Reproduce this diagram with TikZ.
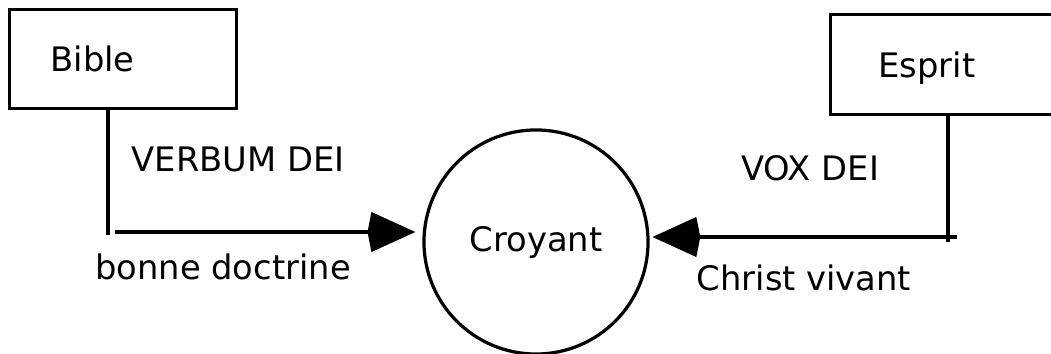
\documentclass[tikz,border=0pt]{standalone}
\usepackage{fontspec}
\setmainfont{DejaVu Sans}
\usetikzlibrary{arrows.meta,positioning}

\begin{document}
\begin{tikzpicture}[
  x=0.025cm, y=-0.025cm,
  box/.style={rectangle, draw, line width=2.3pt, anchor=north west,
    minimum height=2.5cm, align=left, inner ysep=0pt},
  lbl/.style={font=\fontsize{24}{28}\selectfont, anchor=base, inner sep=0pt},
  arr/.style={-{Kite[length=34pt, width=28.5pt, inset=2.8pt]}},
  line width=2.3pt, font=\fontsize{24}{28}\selectfont
]
  \useasboundingbox (0,0) rectangle (1051,354);
  \clip (0,0) rectangle (1051,354);

  % the two sources
  \node[box, minimum width=5.675cm, minimum height=2.475cm,
    text width=3.625cm, inner xsep=1.025cm] (bible) at (8,8) {Bible};
  \node[box, minimum width=8cm, text width=5.6cm,
    inner xsep=1.2cm, text depth=0pt] (esprit) at (829,13) {Esprit};

  % the believer
  \node[circle, draw, minimum size=5.6cm, inner sep=0pt] (croyant)
    at (536,242) {Croyant};

  % left branch
  \coordinate (bibleturn) at (108,235);
  \coordinate (doctrine) at (115,232);
  \draw (bibleturn |- bible.south) -- (bibleturn);
  \draw[arr, shorten >=5pt] (doctrine) -- (doctrine -| croyant.west);

  % right branch
  \coordinate (espritturn) at (948,242);
  \coordinate (vivant) at (957,237);
  \draw (espritturn |- esprit.south) -- (espritturn);
  \draw[arr, shorten >=2pt] (vivant) -- (vivant -| croyant.east);

  \node[lbl] (verbum) at (238,172) {VERBUM DEI};
  \node[lbl] (bonne) at (223,279) {bonne doctrine};
  \node[lbl] (vox) at (810,180) {VOX DEI};
  \node[lbl] (christ) at (804,290) {Christ vivant};
\end{tikzpicture}
\end{document}
